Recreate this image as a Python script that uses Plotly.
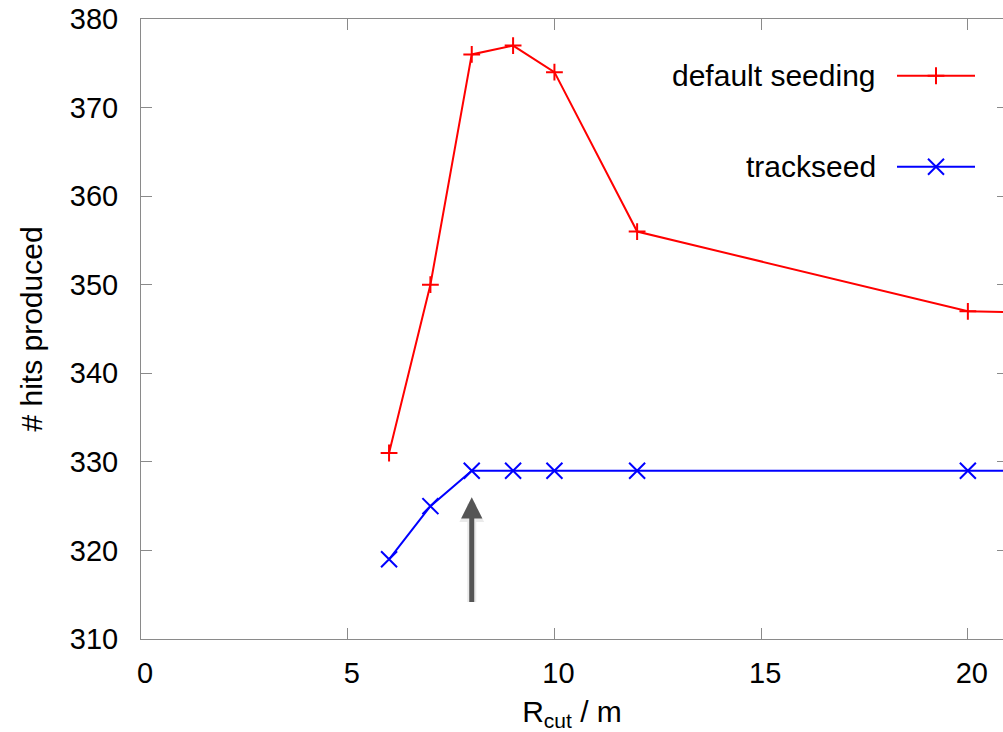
import plotly.graph_objects as go

# ---- data ----
r_cut_default = [6, 7, 8, 9, 10, 12, 20, 30]
hits_default = [331, 350, 376, 377, 374, 356, 347, 346]
r_cut_track = [6, 7, 8, 9, 10, 12, 20, 30]
hits_track = [319, 325, 329, 329, 329, 329, 329, 329]
series_names = ["default seeding", "trackseed"]
x_ticks = [0, 5, 10, 15, 20]
y_ticks = [310, 320, 330, 340, 350, 360, 370, 380]
arrow_x = 8
arrow_tip, arrow_tail = 326, 314

FONT = "Liberation Sans, Arial, Helvetica, sans-serif"
AX_COLOR = "#8a8a8a"

fig = go.Figure()

fig.add_trace(go.Scatter(
    x=r_cut_default, y=hits_default, mode="lines+markers",
    name=series_names[0],
    line=dict(color="#ff0000", width=2),
    marker=dict(symbol="cross-thin", size=12, line=dict(color="#ff0000", width=2)),
    cliponaxis=True,
))
fig.add_trace(go.Scatter(
    x=r_cut_track, y=hits_track, mode="lines+markers",
    name=series_names[1],
    line=dict(color="#0000ff", width=2),
    marker=dict(symbol="x-thin", size=16, line=dict(color="#0000ff", width=2)),
    cliponaxis=True,
))

# legend samples drawn on a pixel-scaled overlay axis (gnuplot-style key)
L, R, T, B = 141, 1003, 19.3, 639
key_rows = [(76, "#ff0000", "cross-thin", 12), (167, "#0000ff", "x-thin", 16)]
for (ky, col, sym, sz), name in zip(key_rows, series_names):
    fig.add_trace(go.Scatter(
        x=[897, 975], y=[ky, ky], mode="lines", xaxis="x2", yaxis="y2",
        line=dict(color=col, width=2), hoverinfo="skip"))
    fig.add_trace(go.Scatter(
        x=[936], y=[ky], mode="markers", xaxis="x2", yaxis="y2",
        marker=dict(symbol=sym, size=sz, line=dict(color=col, width=2)),
        hoverinfo="skip"))
    fig.add_annotation(x=878, y=ky, xref="x2", yref="y2", text=name,
                       showarrow=False, xanchor="right", yanchor="middle",
                       font=dict(family=FONT, size=30, color="black"))

# arrow shadow + arrow
fig.add_annotation(x=arrow_x, y=arrow_tip, ax=arrow_x, ay=arrow_tail,
                   xref="x", yref="y", axref="x", ayref="y", text="",
                   showarrow=True, arrowhead=2, arrowwidth=9, arrowsize=0.55,
                   arrowcolor="rgba(0,0,0,0.08)")
fig.add_annotation(x=arrow_x, y=arrow_tip, ax=arrow_x, ay=arrow_tail,
                   xref="x", yref="y", axref="x", ayref="y", text="",
                   showarrow=True, arrowhead=2, arrowwidth=5, arrowsize=0.85,
                   arrowcolor="#555555")

fig.update_layout(
    width=1003, height=732,
    margin=dict(l=L, r=0, t=T, b=732 - B, pad=0),
    paper_bgcolor="white", plot_bgcolor="white",
    showlegend=False,
    font=dict(family=FONT, size=29, color="black"),
    xaxis=dict(
        range=[0, 20.85], tickvals=x_ticks, ticks="inside", ticklen=11,
        tickcolor=AX_COLOR, tickwidth=1, showline=True, linecolor=AX_COLOR,
        linewidth=1, mirror="ticks", showgrid=False, zeroline=False,
        ticklabelstandoff=8, ticklabelshift=4,
        tickfont=dict(size=29),
        title=dict(text="R<sub>cut</sub> / m", standoff=13,
                   font=dict(size=30)),
    ),
    yaxis=dict(
        range=[310, 380], tickvals=y_ticks, ticks="inside", ticklen=11,
        tickcolor=AX_COLOR, tickwidth=1, showline=True, linecolor=AX_COLOR,
        linewidth=1, mirror=False, showgrid=False, zeroline=False,
        ticklabelstandoff=16, tickfont=dict(size=29),
        title=dict(text="# hits produced", standoff=18, font=dict(size=30)),
    ),
    yaxis3=dict(
        overlaying="y", side="right", range=[310, 380], tickvals=y_ticks,
        ticks="inside", ticklen=6, tickcolor=AX_COLOR, showline=False,
        showgrid=False, zeroline=False, showticklabels=False,
    ),
    xaxis2=dict(overlaying="x", range=[L, R], visible=False),
    yaxis2=dict(overlaying="y", range=[B, T], visible=False),
)
# dummy invisible trace to activate right-side tick axis
fig.add_trace(go.Scatter(x=[None], y=[None], yaxis="y3", showlegend=False,
                         hoverinfo="skip"))

fig.write_html("out.html")
